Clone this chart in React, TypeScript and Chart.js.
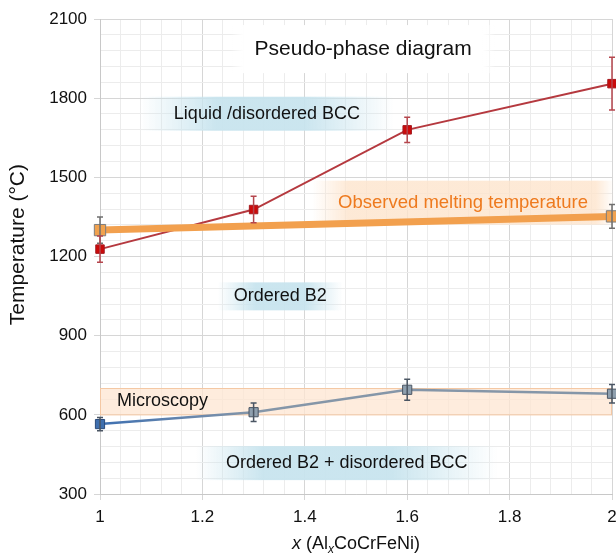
import React, { useEffect, useRef } from "react";
import { Chart, registerables } from "chart.js";

Chart.register(...registerables);

const xRed = [1, 1.3, 1.6, 2];
const tRed = [1228, 1378, 1680, 1855];
const eRed = [50, 50, 48, 100];

const xMelt = [1, 2];
const tMelt = [1300, 1352];
const eMelt = [50, 45];

const xMicro = [1, 1.3, 1.6, 2];
const tMicro = [565, 610, 695, 680];
const eMicro = [25, 35, 40, 35];

const microBand = [600, 700];

const xMajor = [1, 1.2, 1.4, 1.6, 1.8, 2];
const yMajor = [300, 600, 900, 1200, 1500, 1800, 2100];

const FONT = "'Liberation Sans', Arial, sans-serif";

type Note = { text: string; x: number; y: number; color: string; bg: string; size: number; padX: number; h: number; fadeL: number; fadeR: number; alpha: number };
const notes: Note[] = [
  { text: "Pseudo-phase diagram", x: 1.514, y: 1986, color: "#111", bg: "255,255,255", size: 21, padX: 24, h: 48, fadeL: 0.05, fadeR: 0.05, alpha: 1 },
  { text: "Liquid /disordered BCC", x: 1.326, y: 1741, color: "#111", bg: "200,228,238", size: 18, padX: 34, h: 34, fadeL: 0.3, fadeR: 0.35, alpha: 0.95 },
  { text: "Observed melting temperature", x: 1.709, y: 1404, color: "#ee7a1e", bg: "253,228,204", size: 18.5, padX: 26, h: 44, fadeL: 0.12, fadeR: 0.06, alpha: 0.8 },
  { text: "Ordered B2", x: 1.352, y: 1049, color: "#111", bg: "200,228,238", size: 18, padX: 16, h: 28, fadeL: 0.3, fadeR: 0.3, alpha: 0.95 },
  { text: "Ordered B2 + disordered BCC", x: 1.482, y: 417, color: "#111", bg: "200,228,238", size: 18, padX: 30, h: 34, fadeL: 0.22, fadeR: 0.35, alpha: 0.95 },
];

const isMult = (v: number, step: number) => Math.abs(v / step - Math.round(v / step)) < 1e-6;

const backgroundPlugin = {
  id: "bgNotes",
  beforeDatasetsDraw(chart: any) {
    const { ctx, chartArea, scales } = chart;
    const xs = scales.x, ys = scales.y;
    ctx.save();
    const yTop = ys.getPixelForValue(microBand[1]);
    const yBot = ys.getPixelForValue(microBand[0]);
    ctx.fillStyle = "rgba(253,230,210,0.75)";
    ctx.fillRect(chartArea.left, yTop, chartArea.right - chartArea.left, yBot - yTop);
    ctx.strokeStyle = "#f4c8a4";
    ctx.lineWidth = 1;
    ctx.strokeRect(chartArea.left + 0.5, Math.round(yTop) + 0.5, chartArea.right - chartArea.left - 1, yBot - yTop);
    ctx.font = `18px ${FONT}`;
    ctx.fillStyle = "#111";
    ctx.textAlign = "left";
    ctx.textBaseline = "middle";
    ctx.fillText("Microscopy", xs.getPixelForValue(1.033), ys.getPixelForValue(652));

    for (const n of notes) {
      ctx.font = `${n.size}px ${FONT}`;
      const w = ctx.measureText(n.text).width;
      const cx = xs.getPixelForValue(n.x);
      const cy = ys.getPixelForValue(n.y);
      const l = cx - w / 2 - n.padX, r = cx + w / 2 + n.padX;
      const g = ctx.createLinearGradient(l, 0, r, 0);
      g.addColorStop(0, `rgba(${n.bg},0)`);
      g.addColorStop(n.fadeL, `rgba(${n.bg},${n.alpha})`);
      g.addColorStop(1 - n.fadeR, `rgba(${n.bg},${n.alpha})`);
      g.addColorStop(1, `rgba(${n.bg},0)`);
      ctx.fillStyle = g;
      ctx.fillRect(l, cy - n.h / 2, r - l, n.h);
      ctx.fillStyle = n.color;
      ctx.textAlign = "center";
      ctx.textBaseline = "middle";
      ctx.fillText(n.text, cx, cy);
    }
    ctx.restore();
  },
};

const errorPlugin = {
  id: "errBars",
  afterDatasetsDraw(chart: any) {
    const { ctx, scales } = chart;
    const xs = scales.x, ys = scales.y;
    ctx.save();
    chart.data.datasets.forEach((ds: any) => {
      const errs: number[] = ds.errors || [];
      ds.data.forEach((p: any, i: number) => {
        const e = errs[i];
        if (!e) return;
        const px = xs.getPixelForValue(p.x);
        const y1 = ys.getPixelForValue(p.y + e);
        const y2 = ys.getPixelForValue(p.y - e);
        ctx.strokeStyle = ds.errorColor;
        ctx.lineWidth = 1.5;
        ctx.beginPath();
        ctx.moveTo(px, y1);
        ctx.lineTo(px, y2);
        ctx.moveTo(px - 3, y1);
        ctx.lineTo(px + 3, y1);
        ctx.moveTo(px - 3, y2);
        ctx.lineTo(px + 3, y2);
        ctx.stroke();
      });
    });
    ctx.restore();
  },
};

const titlePlugin = {
  id: "axisTitles",
  afterDraw(chart: any) {
    const { ctx, chartArea } = chart;
    const cx = (chartArea.left + chartArea.right) / 2;
    const y = chart.height - 4;
    const parts = [
      { t: "x", f: `italic 18px ${FONT}`, dy: 0 },
      { t: " (Al", f: `18px ${FONT}`, dy: 0 },
      { t: "x", f: `italic 12px ${FONT}`, dy: 4 },
      { t: "CoCrFeNi)", f: `18px ${FONT}`, dy: 0 },
    ];
    ctx.save();
    let total = 0;
    for (const p of parts) { ctx.font = p.f; total += ctx.measureText(p.t).width; }
    let x = cx - total / 2;
    ctx.fillStyle = "#111";
    ctx.textAlign = "left";
    ctx.textBaseline = "alphabetic";
    for (const p of parts) {
      ctx.font = p.f;
      ctx.fillText(p.t, x, y + p.dy);
      x += ctx.measureText(p.t).width;
    }
    ctx.translate(18, chartArea.top + (chartArea.bottom - chartArea.top) * 0.475);
    ctx.rotate(-Math.PI / 2);
    ctx.font = `21px ${FONT}`;
    ctx.textAlign = "center";
    ctx.textBaseline = "middle";
    ctx.fillText("Temperature (°C)", 0, 0);
    ctx.restore();
  },
};

export default function App() {
  const ref = useRef<HTMLCanvasElement>(null);
  useEffect(() => {
    document.body.style.margin = "0";
    const toPts = (xs: number[], ys: number[]) => xs.map((x, i) => ({ x, y: ys[i] }));
    const chart = new Chart(ref.current!, {
      type: "line",
      data: {
        datasets: [
          {
            label: "Melting",
            data: toPts(xMelt, tMelt),
            errors: eMelt,
            errorColor: "#6f6f6f",
            borderColor: "#f2a04e",
            borderWidth: 7,
            pointStyle: "rect",
            pointRadius: 8,
            pointBackgroundColor: "#f1a24f",
            pointBorderColor: "#7d7d7d",
            pointBorderWidth: 1,
            clip: false,
          } as any,
          {
            label: "Liquid",
            data: toPts(xRed, tRed),
            errors: eRed,
            errorColor: "#b5464d",
            borderColor: "#b5393f",
            borderWidth: 2,
            pointStyle: "rect",
            pointRadius: 6,
            pointBackgroundColor: "#cc0a0a",
            pointBorderColor: "#a51c22",
            pointBorderWidth: 1,
            clip: false,
          } as any,
          {
            label: "Micro",
            data: toPts(xMicro, tMicro),
            errors: eMicro,
            errorColor: "#4a5563",
            borderColor: (c: any) => {
              const ca = c.chart.chartArea;
              if (!ca) return "#7f93a8";
              const g = c.chart.ctx.createLinearGradient(ca.left, 0, ca.right, 0);
              g.addColorStop(0, "#3e70b2");
              g.addColorStop(0.3, "#8596a8");
              g.addColorStop(1, "#8596a8");
              return g;
            },
            borderWidth: 2.5,
            pointStyle: "rect",
            pointRadius: 6.5,
            pointBackgroundColor: ["#3f6fae", "#8e9fae", "#8e9fae", "#8e9fae"],
            pointBorderColor: ["#2b4c7c", "#4a5563", "#4a5563", "#4a5563"],
            pointBorderWidth: 1,
            clip: false,
          } as any,
        ],
      },
      options: {
        animation: false,
        responsive: false,
        devicePixelRatio: 1,
        layout: { autoPadding: false, padding: { top: 19, right: 4, left: 0, bottom: 0 } },
        plugins: { legend: { display: false }, tooltip: { enabled: false } },
        elements: { line: { tension: 0 } },
        scales: {
          x: {
            type: "linear",
            min: xMajor[0],
            max: xMajor[xMajor.length - 1],
            afterFit: (s: any) => { s.height = 59; s.paddingRight = 0; s.paddingLeft = 0; },
            border: { color: "#c8c8c8" },
            grid: {
              color: (c: any) => (isMult(c.tick.value, 0.2) ? "#d6d6d6" : "#ececec"),
              tickColor: (c: any) => (isMult(c.tick.value, 0.2) ? "#d6d6d6" : "rgba(0,0,0,0)"),
              tickLength: 6,
            },
            ticks: {
              stepSize: 0.04,
              autoSkip: false,
              maxRotation: 0,
              padding: 7,
              color: "#111",
              font: { family: FONT, size: 17 },
              callback: (v: any) => (isMult(Number(v), 0.2) ? String(Math.round(Number(v) * 10) / 10) : ""),
            },
          },
          y: {
            type: "linear",
            min: yMajor[0],
            max: yMajor[yMajor.length - 1],
            afterFit: (s: any) => { s.width = 100; },
            border: { color: "#c8c8c8" },
            grid: {
              color: (c: any) => (isMult(c.tick.value, 300) ? "#d6d6d6" : "#ececec"),
              tickColor: (c: any) => (isMult(c.tick.value, 300) ? "#d6d6d6" : "rgba(0,0,0,0)"),
              tickLength: 6,
            },
            ticks: {
              stepSize: 60,
              autoSkip: false,
              padding: 7,
              color: "#111",
              font: { family: FONT, size: 17 },
              callback: (v: any) => (isMult(Number(v), 300) ? String(v) : ""),
            },
          },
        },
      },
      plugins: [backgroundPlugin, errorPlugin, titlePlugin],
    } as any);
    return () => chart.destroy();
  }, []);
  return (
    <div style={{ width: 616, height: 553 }}>
      <canvas ref={ref} width={616} height={553} style={{ width: 616, height: 553, display: "block" }} />
    </div>
  );
}
